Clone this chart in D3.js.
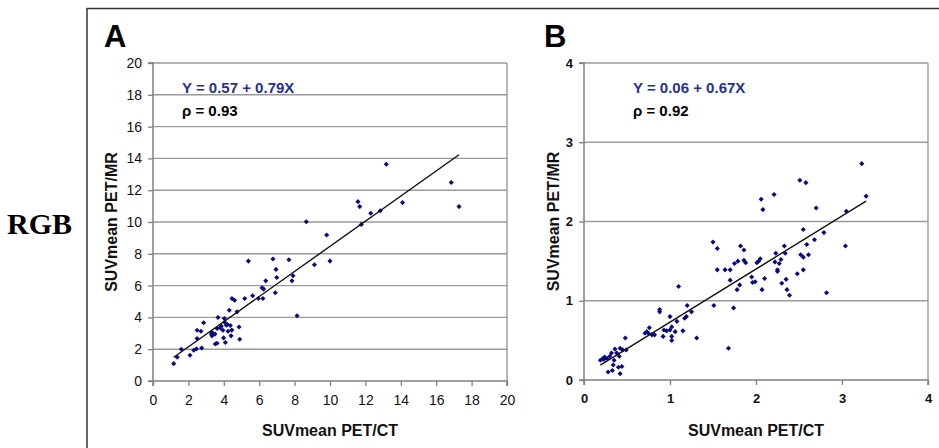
<!DOCTYPE html>
<html><head><meta charset="utf-8">
<script src="https://cdn.jsdelivr.net/npm/d3@7"></script>
<style>
html,body{margin:0;padding:0;background:#fff;}
svg{display:block;}
</style></head>
<body>
<svg id="chart" width="939" height="448"></svg>
<script>
// ---- Data ----
const panelA_x = [1.17,1.37,1.60,2.09,2.30,2.45,2.49,2.49,2.71,2.75,2.86,3.30,3.33,3.33,3.52,3.62,3.62,3.67,3.80,3.95,3.99,4.03,4.05,4.09,4.14,4.24,4.31,4.37,4.41,4.46,4.61,4.75,4.86,4.90,5.18,5.39,5.63,5.95,6.16,6.21,6.25,6.37,6.78,6.91,6.95,6.99,7.68,7.85,7.91,8.14,8.66,9.12,9.81,10.0,11.58,11.68,11.77,12.30,12.84,13.18,14.10,16.85,17.29,3.86,4.20,3.50,4.45];
const panelA_y = [1.09,1.49,2.00,1.62,1.93,2.02,2.67,3.19,3.13,2.08,3.66,2.96,2.84,3.07,2.33,2.37,3.30,3.99,3.34,3.19,2.71,3.93,3.70,2.42,3.51,3.13,4.45,3.49,2.84,5.19,5.08,4.35,3.40,2.63,5.19,7.54,5.36,5.19,5.86,5.19,5.78,6.30,7.67,5.55,7.02,6.51,7.63,6.30,6.62,4.10,10.02,7.31,9.18,7.54,11.28,10.97,9.85,10.55,10.71,13.63,11.22,12.48,10.97,3.45,3.55,2.95,3.20];
const panelB_x = [0.19,0.22,0.24,0.23,0.27,0.28,0.30,0.32,0.33,0.34,0.35,0.36,0.38,0.40,0.41,0.42,0.42,0.44,0.45,0.48,0.49,0.71,0.73,0.75,0.76,0.79,0.82,0.88,0.88,0.92,0.93,0.96,1.00,1.00,1.02,1.02,1.02,1.06,1.08,1.10,1.15,1.17,1.19,1.20,1.25,1.31,1.50,1.51,1.55,1.55,1.64,1.68,1.70,1.70,1.74,1.75,1.78,1.79,1.81,1.82,1.86,1.86,1.88,1.95,1.96,1.99,2.01,2.03,2.05,2.06,2.07,2.08,2.10,2.21,2.22,2.23,2.25,2.25,2.27,2.29,2.30,2.33,2.34,2.35,2.36,2.39,2.48,2.51,2.52,2.55,2.55,2.55,2.58,2.59,2.61,2.68,2.70,2.79,2.82,3.04,3.05,3.23,3.28];
const panelB_y = [0.25,0.27,0.29,0.26,0.27,0.10,0.30,0.34,0.12,0.19,0.25,0.39,0.34,0.16,0.30,0.40,0.08,0.17,0.38,0.53,0.38,0.59,0.61,0.59,0.66,0.57,0.57,0.89,0.86,0.55,0.63,0.62,0.80,0.63,0.67,0.55,0.50,0.61,0.74,1.18,0.62,0.78,0.80,0.94,0.86,0.53,1.74,0.94,1.66,1.39,1.39,0.40,1.39,1.26,0.91,1.47,1.14,1.50,1.20,1.69,1.64,1.51,1.48,1.30,1.23,1.24,1.48,1.50,1.53,2.28,1.14,2.15,1.28,2.34,1.49,1.60,1.39,1.37,1.47,1.52,1.22,1.69,1.60,1.27,1.14,1.07,1.34,2.52,1.58,1.90,1.55,1.39,2.49,1.71,1.58,1.77,2.17,1.86,1.10,1.69,2.13,2.73,2.32];
const panelA_ticks = [0,2,4,6,8,10,12,14,16,18,20];
const panelB_ticks = [0,1,2,3,4];
const fitA = [0.57, 0.79]; // intercept, slope
const fitB = [0.06, 0.67];
const eqA = "Y = 0.57 + 0.79X", rhoA = "\u03C1 = 0.93";
const eqB = "Y = 0.06 + 0.67X", rhoB = "\u03C1 = 0.92";
const xTitle = "SUVmean PET/CT", yTitle = "SUVmean PET/MR";

// ---- Drawing ----
const svg = d3.select("#chart");
const FONT = "Arial, 'Liberation Sans', Helvetica, sans-serif";

// outer frame
svg.append("path").attr("d","M87,448 L87,8.5 L939,8.5")
  .attr("fill","none").attr("stroke","#333").attr("stroke-width",1.5);

svg.append("text").attr("x",7).attr("y",234)
  .attr("font-family","'Liberation Serif','Times New Roman',serif")
  .attr("font-weight","bold").attr("font-size",30).attr("fill","#000").text("RGB");

function panel(cfg){
  const g = svg.append("g");
  const x = d3.scaleLinear().domain([0, cfg.max]).range([cfg.left, cfg.right]);
  const y = d3.scaleLinear().domain([0, cfg.max]).range([cfg.bottom, cfg.top]);

  // gridlines
  g.selectAll("line.grid").data(cfg.ticks.filter(t=>t>0)).join("line")
    .attr("x1",cfg.left).attr("x2",cfg.right)
    .attr("y1",d=>y(d)).attr("y2",d=>y(d))
    .attr("stroke","#9a9a9a").attr("stroke-width",1.4);
  // right border
  g.append("line").attr("x1",cfg.right).attr("x2",cfg.right)
    .attr("y1",cfg.top).attr("y2",cfg.bottom)
    .attr("stroke","#9a9a9a").attr("stroke-width",1.4);

  // axes
  const fmt = d3.format("d");
  const yAxis = d3.axisLeft(y).tickValues(cfg.ticks).tickFormat(fmt).tickSize(5).tickPadding(cfg.yPad);
  const xAxis = d3.axisBottom(x).tickValues(cfg.ticks).tickFormat(fmt).tickSize(5).tickPadding(9);
  const ga = g.append("g").attr("transform",`translate(${cfg.left},0)`).call(yAxis);
  const gb = g.append("g").attr("transform",`translate(0,${cfg.bottom})`).call(xAxis);
  [ga,gb].forEach(a=>{
    a.select(".domain").attr("stroke","#808080").attr("stroke-width",1.5);
    a.selectAll(".tick line").attr("stroke","#808080").attr("stroke-width",1.3);
    a.selectAll(".tick text").attr("font-family",FONT).attr("font-size",cfg.tickSize)
      .attr("font-weight",cfg.tickWeight).attr("fill","#111");
  });
  ga.select(".domain").attr("d",`M-5,${cfg.top}H0V${cfg.bottom+5}`);
  gb.select(".domain").attr("d",`M${cfg.left-5},0H${cfg.right}V5`);

  // points
  const pts = cfg.xs.map((v,i)=>[v,cfg.ys[i]]);
  const sym = d3.symbol(d3.symbolSquare, 13);
  g.selectAll("path.pt").data(pts).join("path")
    .attr("d",sym)
    .attr("transform",d=>`translate(${x(d[0])},${y(d[1])}) rotate(45)`)
    .attr("fill","#0a0a80");

  // regression line
  const xr = d3.extent(cfg.xs);
  g.append("line")
    .attr("x1",x(xr[0])).attr("y1",y(cfg.fit[0]+cfg.fit[1]*xr[0]))
    .attr("x2",x(xr[1])).attr("y2",y(cfg.fit[0]+cfg.fit[1]*xr[1]))
    .attr("stroke","#111").attr("stroke-width",1.4);

  // labels
  g.append("text").attr("x",cfg.letterX).attr("y",47).attr("font-family",FONT)
    .attr("font-weight","bold").attr("font-size",31).attr("fill","#000").text(cfg.letter);
  g.append("text").attr("x",cfg.eqX).attr("y",93).attr("font-family",FONT)
    .attr("font-weight","bold").attr("font-size",15).attr("fill","#26318c").text(cfg.eq);
  g.append("text").attr("x",cfg.eqX).attr("y",116).attr("font-family",FONT)
    .attr("font-weight","bold").attr("font-size",15).attr("fill","#000").text(cfg.rho);
  g.append("text").attr("x",(cfg.left+cfg.right)/2).attr("y",436)
    .attr("text-anchor","middle").attr("font-family",FONT)
    .attr("font-weight","bold").attr("font-size",16).attr("fill","#111").text(xTitle);
  g.append("text").attr("transform",`translate(${cfg.yTitleX},${(cfg.top+cfg.bottom)/2}) rotate(-90)`)
    .attr("text-anchor","middle").attr("font-family",FONT)
    .attr("font-weight","bold").attr("font-size",16).attr("fill","#111").text(yTitle);
}

panel({left:153,right:507,top:63,bottom:381,max:20,ticks:panelA_ticks,
  xs:panelA_x,ys:panelA_y,fit:fitA,letter:"A",letterX:104,eqX:182,eq:eqA,rho:rhoA,
  yTitleX:117,tickSize:14,tickWeight:"normal",yPad:6});
panel({left:584,right:928,top:63,bottom:380,max:4,ticks:panelB_ticks,
  xs:panelB_x,ys:panelB_y,fit:fitB,letter:"B",letterX:544,eqX:633,eq:eqB,rho:rhoB,
  yTitleX:559,tickSize:13,tickWeight:"bold",yPad:6});
</script>
</body></html>
